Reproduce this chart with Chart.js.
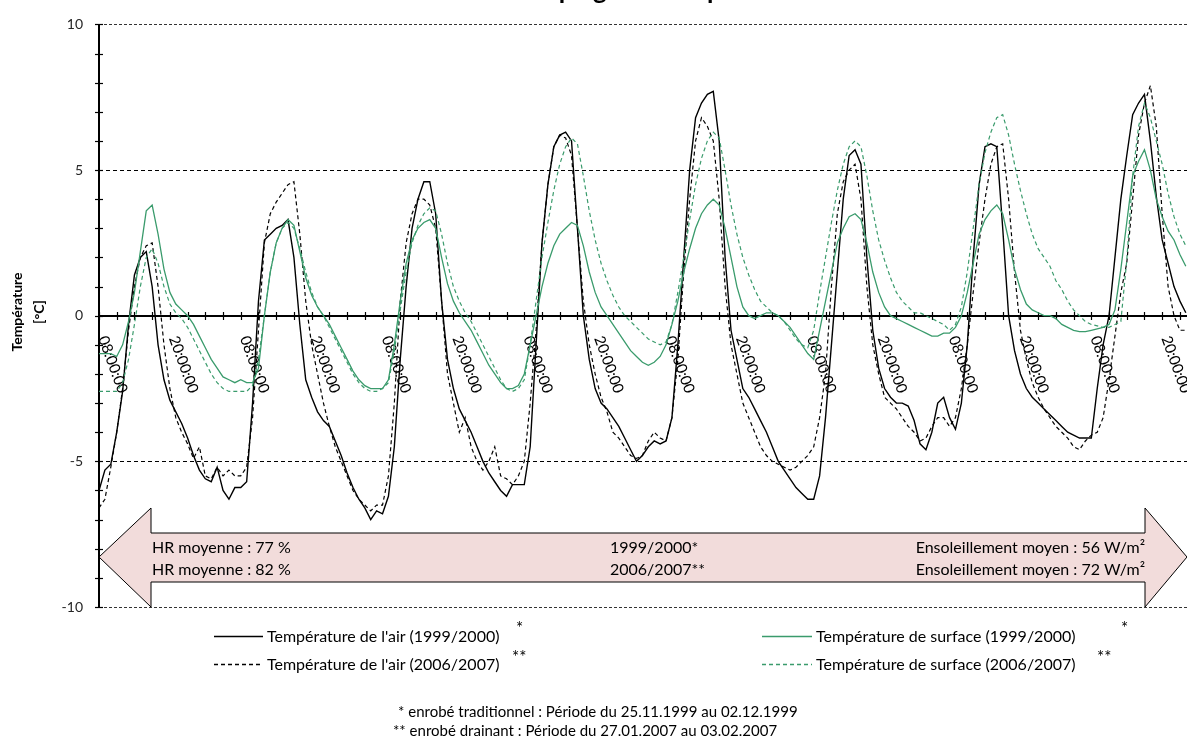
<!DOCTYPE html>
<html lang="fr">
<head>
<meta charset="utf-8">
<script src="https://cdn.jsdelivr.net/npm/chart.js@4.4.1/dist/chart.umd.min.js"></script>
<style>
  html, body { margin: 0; padding: 0; background: #fff; }
  #wrap { position: relative; width: 1187px; height: 745px; overflow: hidden; font-family: Lato, 'Open Sans', sans-serif; color: #000; }
  #chart { position: absolute; left: 0; top: 0; }
  .t { position: absolute; white-space: nowrap; line-height: 1; }
  .title { left: 0; width: 1187px; text-align: center; top: -24px; font-size: 26px; font-weight: bold; }
  .ytitle { width: 200px; text-align: center; font-size: 14px; font-weight: bold; transform: rotate(-90deg); }
  .box { font-size: 16px; }
  .leg { font-size: 16px; }
  .star { font-size: 17px; }
  .note { font-size: 15px; }
  svg.key { position: absolute; overflow: visible; }
</style>
</head>
<body>
<div id="wrap">
  <canvas id="chart" width="1187" height="745"></canvas>

  <div class="t title">Evolution de la plage de température</div>
  <div class="t ytitle" style="left:-83px; top:305px;">Température</div>
  <div class="t ytitle" style="left:-61px; top:305px;">[°C]</div>

  <div class="t box" style="left:152px; top:539px;">HR moyenne : 77 %</div>
  <div class="t box" style="left:152px; top:561px;">HR moyenne : 82 %</div>
  <div class="t box" style="left:610px; top:539px;">1999/2000*</div>
  <div class="t box" style="left:610px; top:561px;">2006/2007**</div>
  <div class="t box" style="right:42px; top:539px; text-align:right;">Ensoleillement moyen : 56 W/m²</div>
  <div class="t box" style="right:42px; top:561px; text-align:right;">Ensoleillement moyen : 72 W/m²</div>

  <svg class="key" style="left:0; top:0;" width="1187" height="745">
    <line x1="214" y1="636.5" x2="263" y2="636.5" stroke="#000" stroke-width="1.5"/>
    <line x1="214" y1="664.5" x2="263" y2="664.5" stroke="#000" stroke-width="1.3" stroke-dasharray="4 3"/>
    <line x1="762" y1="636.5" x2="812" y2="636.5" stroke="#3a9b6c" stroke-width="1.5"/>
    <line x1="762" y1="664.5" x2="812" y2="664.5" stroke="#3a9b6c" stroke-width="1.3" stroke-dasharray="4 3"/>
  </svg>
  <div class="t leg" style="left:267px; top:628px;">Température de l'air (1999/2000)</div>
  <div class="t leg" style="left:267px; top:656px;">Température de l'air (2006/2007)</div>
  <div class="t leg" style="left:816px; top:628px;">Température de surface (1999/2000)</div>
  <div class="t leg" style="left:816px; top:656px;">Température de surface (2006/2007)</div>
  <div class="t star" style="left:516px; top:619px;">*</div>
  <div class="t star" style="left:512px; top:648px;">**</div>
  <div class="t star" style="left:1121px; top:619px;">*</div>
  <div class="t star" style="left:1097px; top:648px;">**</div>

  <div class="t note" style="left:398px; top:704px;">* enrobé traditionnel : Période du 25.11.1999 au 02.12.1999</div>
  <div class="t note" style="left:393px; top:723px;">** enrobé drainant : Période du 27.01.2007 au 03.02.2007</div>
</div>

<script>
// hours counted from 08:00 on the first day, one reading per hour
const hours = Array.from({ length: 185 }, (_, i) => i);
const hourLabels = ['08:00:00', '20:00:00'];

// air temperature, 1999/2000 (°C)
const airTrad = [
  -6.0,-5.3,-5.1,-4.0,-2.6,-0.3,1.4,2.0,2.2,1.0,-1.0,-2.2,-2.9,-3.3,-3.7,-4.2,-4.8,-5.3,-5.6,-5.7,-5.2,-6.0,-6.3,-5.9,
  -5.9,-5.7,-3.0,0.5,2.6,2.8,3.0,3.1,3.3,2.0,-0.3,-2.2,-2.8,-3.3,-3.6,-3.8,-4.3,-4.8,-5.4,-5.9,-6.3,-6.6,-7.0,-6.7,
  -6.8,-6.2,-4.5,-1.5,1.0,3.0,4.0,4.6,4.6,3.5,0.5,-1.5,-2.5,-3.2,-3.6,-4.0,-4.5,-5.0,-5.4,-5.7,-6.0,-6.2,-5.8,-5.8,
  -5.8,-4.5,-1.0,2.5,4.5,5.8,6.2,6.3,6.0,3.0,0.0,-1.5,-2.5,-3.0,-3.2,-3.5,-3.8,-4.2,-4.6,-5.0,-4.8,-4.5,-4.3,-4.4,
  -4.3,-3.5,-1.0,2.0,5.0,6.8,7.3,7.6,7.7,6.0,2.0,-0.5,-1.5,-2.5,-2.8,-3.2,-3.6,-4.0,-4.5,-5.0,-5.3,-5.6,-5.9,-6.1,
  -6.3,-6.3,-5.5,-3.5,-1.0,1.5,4.0,5.5,5.7,5.2,2.0,-0.5,-1.8,-2.5,-2.8,-3.0,-3.0,-3.1,-3.6,-4.4,-4.6,-4.0,-3.0,-2.8,
  -3.5,-3.9,-3.0,-1.0,2.0,4.5,5.8,5.9,5.8,3.0,0.0,-1.2,-2.0,-2.5,-2.8,-3.0,-3.2,-3.4,-3.6,-3.8,-4.0,-4.1,-4.2,-4.2,
  -4.2,-2.5,-1.0,0.0,2.0,4.0,5.5,6.9,7.3,7.6,6.0,4.1,2.6,1.8,1.0,0.5,0.1
];

// air temperature, 2006/2007 (°C)
const airDrain = [
  -6.6,-6.3,-5.2,-4.0,-2.5,-0.5,1.0,2.0,2.4,2.5,1.0,-1.0,-2.5,-3.5,-4.0,-4.4,-4.9,-4.5,-5.5,-5.6,-5.2,-5.5,-5.3,-5.5,
  -5.5,-5.2,-3.5,-0.5,2.5,3.5,3.9,4.2,4.5,4.6,2.8,0.5,-1.0,-2.0,-3.0,-3.8,-4.5,-5.0,-5.5,-6.0,-6.3,-6.5,-6.7,-6.5,
  -6.5,-5.5,-3.0,0.5,2.5,3.5,4.0,4.0,3.8,3.0,0.5,-2.0,-3.0,-4.0,-3.5,-4.5,-5.0,-5.3,-5.0,-4.5,-5.5,-5.6,-5.8,-5.5,
  -5.0,-3.0,-0.5,2.5,4.5,5.8,6.2,6.1,5.5,3.0,0.5,-1.0,-2.0,-2.8,-3.3,-4.0,-4.2,-4.5,-4.8,-4.9,-4.8,-4.3,-4.0,-4.2,
  -4.3,-3.5,-1.5,1.5,4.0,6.0,6.8,6.5,6.0,4.0,1.0,-1.0,-2.0,-3.0,-3.5,-4.0,-4.5,-4.8,-5.0,-5.1,-5.2,-5.3,-5.2,-5.0,
  -4.8,-4.5,-3.5,-2.0,1.0,3.5,4.6,5.0,5.2,4.0,1.0,-1.0,-2.0,-2.8,-3.0,-3.2,-3.5,-3.8,-4.0,-4.3,-4.2,-3.8,-3.5,-3.5,
  -3.8,-3.5,-2.5,-1.0,0.8,2.5,4.0,5.2,5.8,5.9,4.0,1.5,-0.5,-1.5,-2.3,-2.8,-3.2,-3.5,-3.8,-4.0,-4.2,-4.5,-4.6,-4.3,
  -4.1,-4.0,-3.5,-2.2,-0.7,0.8,1.8,4.0,6.2,7.3,7.9,6.5,3.5,1.0,0.0,-0.5,-0.5
];

// surface temperature, 1999/2000 (°C)
const surfTrad = [
  -1.3,-1.3,-1.3,-1.4,-1.0,-0.2,0.8,2.2,3.6,3.8,2.8,1.6,0.8,0.4,0.2,0.0,-0.3,-0.7,-1.1,-1.5,-1.8,-2.1,-2.2,-2.3,
  -2.2,-2.3,-2.3,-1.8,0.0,1.5,2.5,3.0,3.3,3.1,2.2,1.3,0.7,0.3,0.0,-0.3,-0.7,-1.1,-1.5,-1.9,-2.2,-2.4,-2.5,-2.5,
  -2.5,-2.2,-1.0,0.5,1.8,2.6,3.0,3.2,3.3,3.0,2.0,1.1,0.5,0.1,-0.2,-0.5,-0.9,-1.3,-1.7,-2.0,-2.3,-2.5,-2.5,-2.4,
  -2.0,-1.0,0.0,1.0,1.8,2.4,2.8,3.0,3.2,3.1,2.4,1.5,0.8,0.3,0.0,-0.3,-0.6,-0.9,-1.2,-1.4,-1.6,-1.7,-1.6,-1.4,
  -1.0,-0.3,0.5,1.5,2.3,3.0,3.5,3.8,4.0,3.8,3.0,2.0,1.0,0.3,0.0,-0.1,0.0,0.1,0.1,0.0,-0.2,-0.4,-0.7,-1.0,
  -1.3,-1.5,-0.5,0.5,1.5,2.5,3.0,3.4,3.5,3.3,2.5,1.5,0.8,0.3,0.0,-0.1,-0.2,-0.3,-0.4,-0.5,-0.6,-0.7,-0.7,-0.6,
  -0.6,-0.4,0.0,0.8,1.8,2.8,3.3,3.6,3.8,3.5,2.6,1.6,0.9,0.4,0.2,0.1,0.0,0.0,-0.1,-0.3,-0.4,-0.5,-0.55,-0.55,
  -0.5,-0.45,-0.4,-0.3,0.2,1.6,3.2,4.8,5.3,5.7,5.0,4.0,3.4,2.9,2.6,2.1,1.7
];

// surface temperature, 2006/2007 (°C)
const surfDrain = [
  -2.6,-2.6,-2.6,-2.6,-2.3,-1.5,-0.3,1.0,2.0,2.3,1.8,1.0,0.4,0.1,-0.1,-0.4,-0.8,-1.2,-1.6,-2.0,-2.3,-2.5,-2.6,-2.6,
  -2.6,-2.6,-2.4,-1.5,0.0,1.5,2.5,3.0,3.2,3.0,2.3,1.5,0.8,0.3,0.0,-0.4,-0.8,-1.2,-1.6,-2.0,-2.3,-2.5,-2.6,-2.6,
  -2.5,-2.3,-1.2,0.2,1.5,2.5,3.1,3.5,3.7,3.6,2.8,1.8,1.0,0.5,0.1,-0.2,-0.6,-1.0,-1.4,-1.8,-2.2,-2.5,-2.6,-2.5,
  -2.2,-1.0,0.5,2.0,3.2,4.3,5.2,5.8,6.1,5.9,4.8,3.6,2.6,1.8,1.2,0.7,0.3,0.0,-0.2,-0.4,-0.6,-0.8,-0.9,-1.0,
  -0.9,-0.3,0.8,2.0,3.3,4.5,5.4,6.0,6.3,6.1,5.0,3.8,2.8,2.0,1.4,0.9,0.5,0.3,0.1,0.0,-0.2,-0.5,-0.8,-1.0,
  -1.1,-0.5,0.8,2.0,3.2,4.3,5.2,5.8,6.0,5.8,4.8,3.6,2.6,1.9,1.3,0.8,0.5,0.3,0.1,0.1,0.0,-0.1,-0.2,-0.3,
  -0.5,-0.3,0.3,1.5,3.0,4.5,5.6,6.3,6.8,6.9,6.2,5.2,4.3,3.5,2.8,2.3,2.0,1.7,1.2,0.9,0.5,0.2,0.0,-0.2,
  -0.3,-0.35,-0.4,-0.4,-0.3,-0.2,1.9,4.8,6.5,7.3,6.8,6.0,5.2,4.2,3.4,2.8,2.4
];

const GREEN = '#3a9b6c';

// zero axis with its ticks, rotated hour labels, dashed guides and the period arrow
const decor = {
  id: 'decor',
  beforeDatasetsDraw(chart) {
    const { ctx, chartArea: a, scales: { x, y } } = chart;
    const y0 = Math.round(y.getPixelForValue(0));
    ctx.save();

    // dashed guides at ±5 and ±10
    ctx.lineWidth = 1;
    [5, -5].forEach(v => {
      const py = Math.round(y.getPixelForValue(v)) + 0.5;
      ctx.strokeStyle = '#000';
      ctx.setLineDash([4, 3]);
      ctx.beginPath(); ctx.moveTo(a.left, py); ctx.lineTo(a.right, py); ctx.stroke();
    });
    [10, -10].forEach(v => {
      const py = Math.round(y.getPixelForValue(v)) + 0.5;
      ctx.strokeStyle = '#333';
      ctx.setLineDash([3, 2]);
      ctx.beginPath(); ctx.moveTo(a.left, py); ctx.lineTo(a.right, py); ctx.stroke();
    });
    ctx.setLineDash([]);

    // vertical axis with a tick every degree
    ctx.strokeStyle = '#000';
    ctx.lineWidth = 2;
    ctx.beginPath(); ctx.moveTo(a.left, a.top); ctx.lineTo(a.left, a.bottom); ctx.stroke();
    ctx.lineWidth = 1.2;
    for (let v = y.min; v <= y.max; v++) {
      const py = Math.round(y.getPixelForValue(v)) + 0.5;
      ctx.beginPath(); ctx.moveTo(a.left - 4, py); ctx.lineTo(a.left + 4, py); ctx.stroke();
    }

    // horizontal axis through zero, tick every 3 hours
    ctx.lineWidth = 2;
    ctx.beginPath(); ctx.moveTo(a.left, y0); ctx.lineTo(a.right, y0); ctx.stroke();
    ctx.lineWidth = 1.2;
    for (let h = 0; h <= x.max; h += 3) {
      const px = Math.round(x.getPixelForValue(h)) + 0.5;
      ctx.beginPath(); ctx.moveTo(px, y0 - 4); ctx.lineTo(px, y0 + 4); ctx.stroke();
    }

    // 08:00 / 20:00 labels, turned clockwise
    ctx.fillStyle = '#000';
    ctx.font = '15px Lato, sans-serif';
    ctx.textAlign = 'left';
    ctx.textBaseline = 'middle';
    for (let h = 0; h <= x.max; h += 12) {
      const px = x.getPixelForValue(h);
      ctx.save();
      ctx.translate(px + 3.5, y0 + 20.5);
      ctx.rotate(70 * Math.PI / 180);
      ctx.fillText(hourLabels[(h / 12) % 2], 0, 0);
      ctx.restore();
    }
    ctx.restore();
  },
  afterDatasetsDraw(chart) {
    const { ctx, chartArea: a } = chart;
    const mid = a.bottom - 50, head = 52;
    ctx.save();
    ctx.fillStyle = '#f2dcdb';
    ctx.strokeStyle = '#000';
    ctx.lineWidth = 1;
    ctx.beginPath();
    ctx.moveTo(a.left, mid);
    ctx.lineTo(a.left + head, mid - 49);
    ctx.lineTo(a.left + head, mid - 24);
    ctx.lineTo(a.right - 42, mid - 24);
    ctx.lineTo(a.right - 42, mid - 49);
    ctx.lineTo(a.right, mid);
    ctx.lineTo(a.right - 42, mid + 50);
    ctx.lineTo(a.right - 42, mid + 25);
    ctx.lineTo(a.left + head, mid + 25);
    ctx.lineTo(a.left + head, mid + 50);
    ctx.closePath();
    ctx.fill();
    ctx.stroke();
    ctx.restore();
  }
};

const series = (label, data, color, dash, width) => ({
  label, data,
  borderColor: color,
  borderWidth: width,
  borderDash: dash,
  pointRadius: 0,
  tension: 0,
  fill: false
});

new Chart(document.getElementById('chart'), {
  type: 'line',
  data: {
    labels: hours,
    datasets: [
      series("Température de surface (1999/2000)", surfTrad, GREEN, [], 1.3),
      series("Température de surface (2006/2007)", surfDrain, GREEN, [4, 3], 1.2),
      series("Température de l'air (1999/2000)", airTrad, '#000', [], 1.4),
      series("Température de l'air (2006/2007)", airDrain, '#000', [4, 3], 1.2)
    ]
  },
  options: {
    responsive: false,
    animation: false,
    devicePixelRatio: 1,
    layout: { padding: { left: 0, top: 17, right: 0, bottom: 138 } },
    plugins: { legend: { display: false }, tooltip: { enabled: false }, title: { display: false } },
    scales: {
      x: { type: 'linear', min: 0, max: 184.2, display: false },
      y: {
        min: -10, max: 10,
        afterFit(s) { s.width = 99; },
        border: { display: false },
        grid: { display: false, drawTicks: false },
        ticks: { stepSize: 5, padding: 16, color: '#262626', font: { family: 'Lato', size: 14 } }
      }
    }
  },
  plugins: [decor]
});
</script>
</body>
</html>
